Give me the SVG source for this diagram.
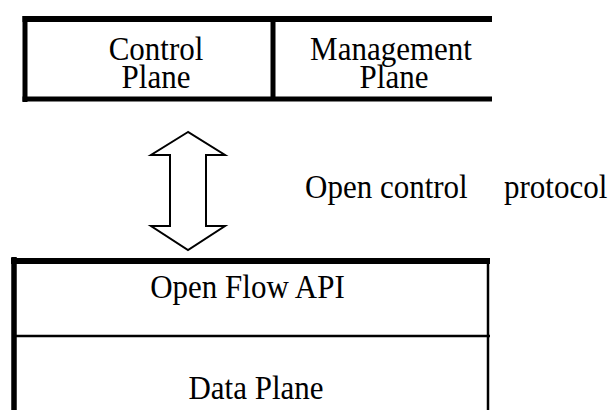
<svg xmlns="http://www.w3.org/2000/svg" width="614" height="410" viewBox="0 0 614 410">
<style>
text{font-family:"Liberation Serif","Times New Roman",serif;font-size:31px;fill:#000;text-anchor:middle}
.b{fill:none;stroke:#000}
</style>
<rect width="614" height="410" fill="#fff"/>
<g id="top-box">
<line class="b" x1="25" y1="16" x2="25" y2="102" stroke-width="5"/>
<line class="b" x1="22.5" y1="19" x2="492" y2="19" stroke-width="6"/>
<line class="b" x1="22.5" y1="99" x2="492" y2="99" stroke-width="5"/>
<line class="b" x1="273" y1="19" x2="273" y2="99" stroke-width="5"/>
</g>
<g id="control-plane">
<text transform="translate(156,60) scale(1,1.12)">Control</text>
<text transform="translate(156,88) scale(1,1.12)">Plane</text>
</g>
<g id="management-plane">
<text transform="translate(391,60) scale(1,1.12)">Management</text>
<text transform="translate(394,88) scale(1,1.12)">Plane</text>
</g>
<g id="connectors">
<polygon class="b" stroke-width="2" points="188,132 151,155 170,155 170,226 151,226 188,250 225,226 206,226 206,155 225,155"/>
<text transform="translate(305,198) scale(1,1.12)" style="text-anchor:start">Open control<tspan x="199">protocol</tspan></text>
</g>
<g id="bottom-box">
<line class="b" x1="14" y1="257" x2="14" y2="410" stroke-width="5.5"/>
<line class="b" x1="11" y1="261" x2="490" y2="261" stroke-width="6"/>
<line class="b" x1="14" y1="336" x2="490" y2="336" stroke-width="2.5"/>
<line class="b" x1="488" y1="261" x2="488" y2="410" stroke-width="2.5"/>
</g>
<g id="open-flow-api">
<text transform="translate(247.5,298) scale(1,1.12)">Open Flow API</text>
</g>
<g id="data-plane">
<text transform="translate(256,399) scale(1,1.12)">Data Plane</text>
</g>
</svg>
